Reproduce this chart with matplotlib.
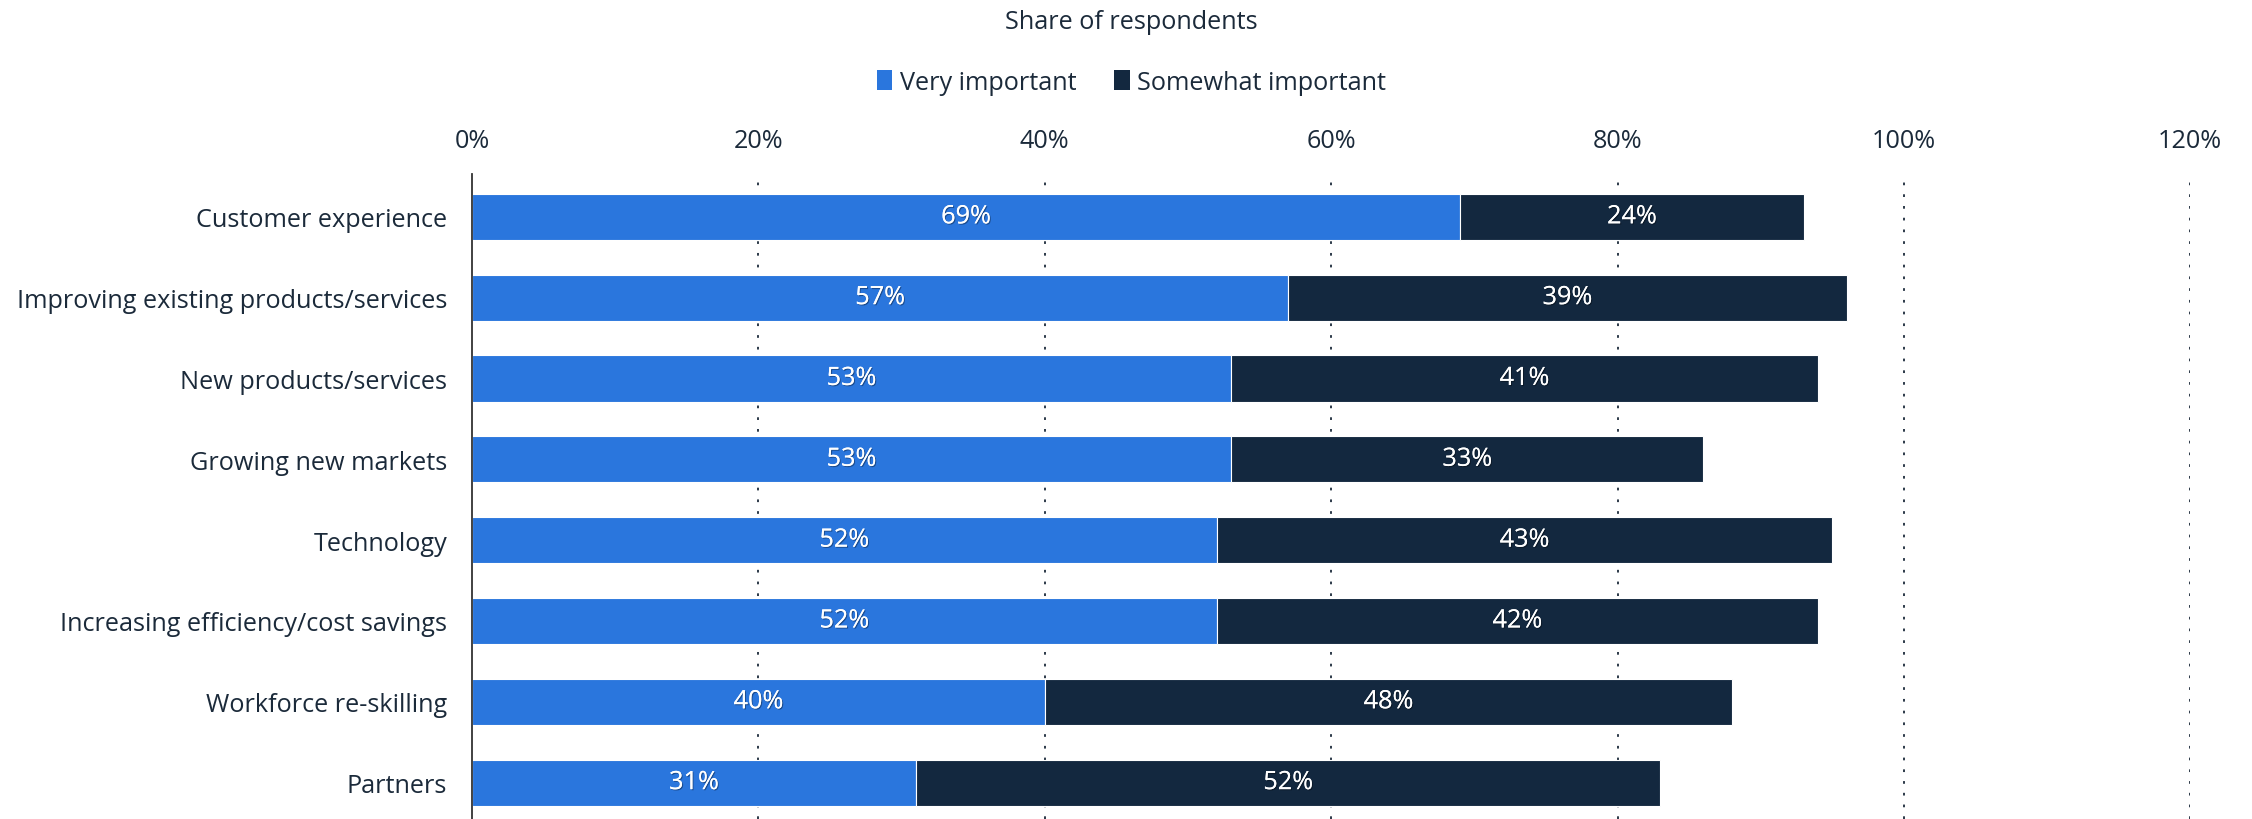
import numpy as np
import matplotlib
matplotlib.use("Agg")
import matplotlib.pyplot as plt
import matplotlib.patheffects as pe
from matplotlib.patches import Patch

categories = [
    "Customer experience",
    "Improving existing products/services",
    "New products/services",
    "Growing new markets",
    "Technology",
    "Increasing efficiency/cost savings",
    "Workforce re-skilling",
    "Partners",
]
very_important = [69, 57, 53, 53, 52, 52, 40, 31]
somewhat_important = [24, 39, 41, 33, 43, 42, 48, 52]
series_names = ["Very important", "Somewhat important"]
x_ticks = [0, 20, 40, 60, 80, 100, 120]

BLUE = "#2a76dd"
NAVY = "#13283f"
TEXT = "#1b2a3a"
FS = 18.2

plt.rcParams["font.family"] = ["Open Sans", "DejaVu Sans"]

fig = plt.figure(figsize=(22.52, 8.2), dpi=100)
ax = fig.add_axes([0.2096, 0.0, 0.763, 0.7866])

y = np.arange(len(categories))
h = 0.57
ax.barh(y, very_important, height=h, color=BLUE, edgecolor="white",
        linewidth=0.8, zorder=3)
ax.barh(y, somewhat_important, left=very_important, height=h,
        color=NAVY, edgecolor="white", linewidth=0.8, zorder=3)

# white value labels with a faint drop shadow
shadow = [pe.withSimplePatchShadow(offset=(0.8, -0.8), shadow_rgbFace="black", alpha=0.35),
          pe.Normal()]
for i in range(len(categories)):
    v1, v2 = very_important[i], somewhat_important[i]
    ax.text(v1 / 2, y[i], f"{v1}%", ha="center", va="center", color="white",
            fontsize=FS, zorder=4, path_effects=shadow)
    ax.text(v1 + v2 / 2, y[i], f"{v2}%", ha="center", va="center", color="white",
            fontsize=FS, zorder=4, path_effects=shadow)

ax.set_xlim(0, 120)
ax.set_ylim(7.45, -0.53)
ax.set_xticks(x_ticks)
ax.set_xticklabels([f"{t}%" for t in x_ticks])
ax.xaxis.tick_top()
ax.tick_params(axis="x", length=0, pad=15, labelsize=FS, labelcolor=TEXT)
ax.set_yticks(y)
ax.set_yticklabels(categories)
ax.tick_params(axis="y", length=0, pad=18, labelsize=FS, labelcolor=TEXT)

for t in x_ticks[1:]:
    ax.axvline(t, color=TEXT, linestyle=(0, (1.5, 5)), linewidth=1.3, zorder=1)

for s in ["top", "right", "bottom"]:
    ax.spines[s].set_visible(False)
ax.spines["left"].set_color("#333333")
ax.spines["left"].set_linewidth(1.3)
ax.spines["left"].set_zorder(5)

fig.text(0.5025, 0.972, "Share of respondents", ha="center", va="center",
         fontsize=FS, color=TEXT)

handles = [Patch(facecolor=BLUE), Patch(facecolor=NAVY)]
fig.legend(handles, series_names, loc="center", bbox_to_anchor=(0.5025, 0.898),
           ncol=2, frameon=False, fontsize=FS, handlelength=0.6, handleheight=0.85,
           handletextpad=0.3, columnspacing=1.5, labelcolor=TEXT)

fig.savefig("out.png", dpi=100, facecolor="white")
